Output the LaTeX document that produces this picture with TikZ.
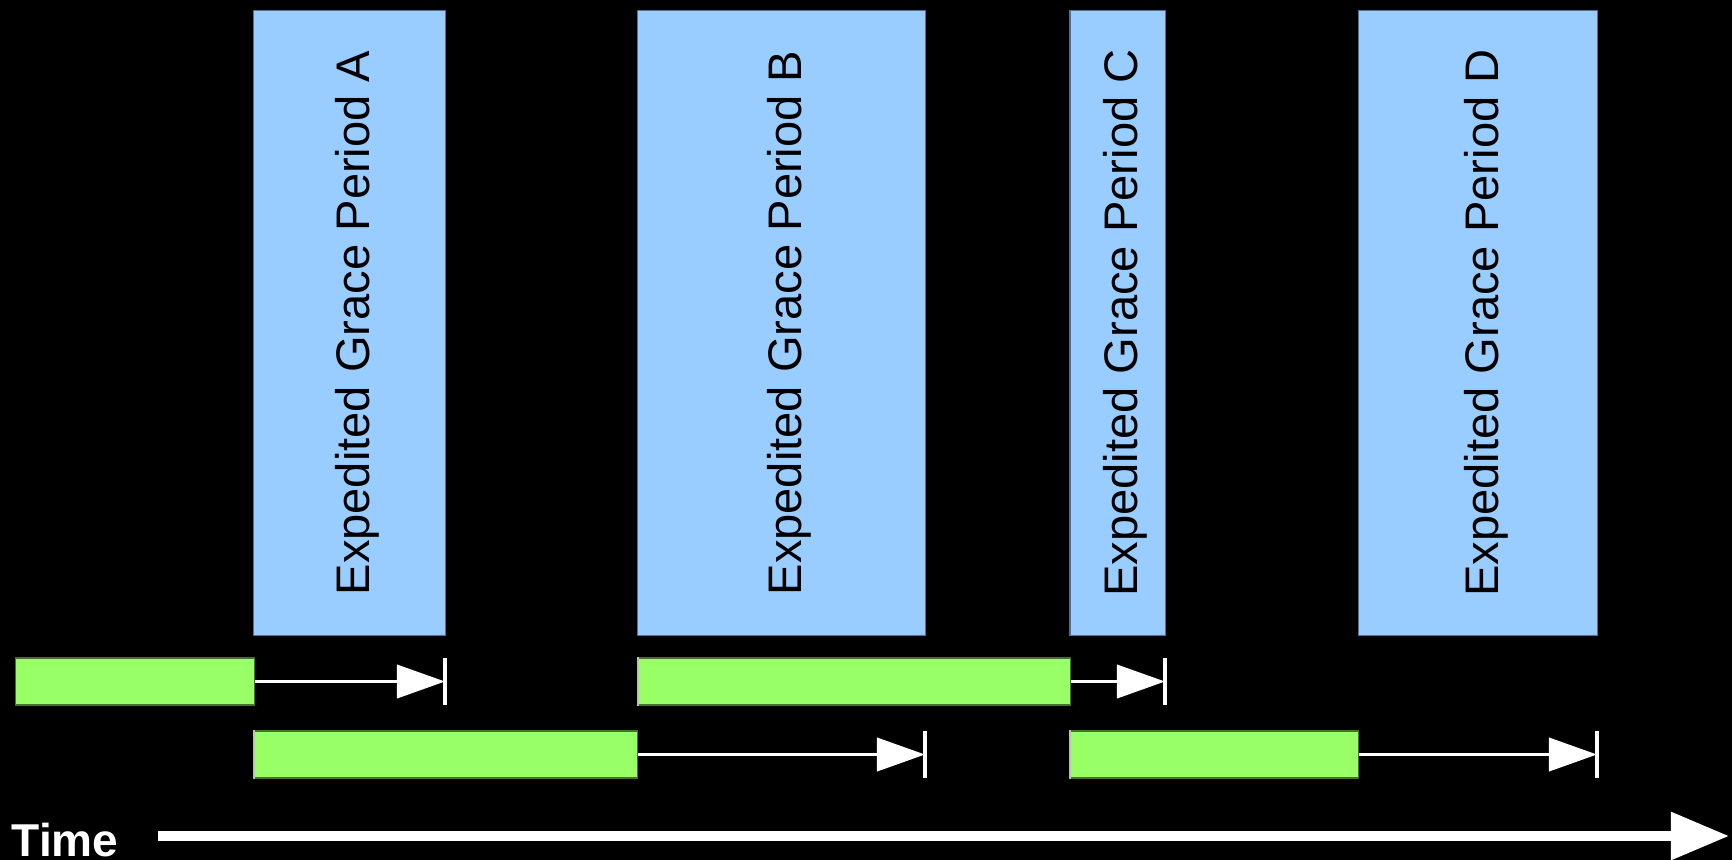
\documentclass[tikz,border=0pt]{standalone}
\usepackage{fontspec}
\setmainfont{Liberation Sans}
\usetikzlibrary{arrows.meta,positioning}
\definecolor{skyblue}{HTML}{99CCFF}
\definecolor{lime}{HTML}{99FF66}

\begin{document}
\begin{tikzpicture}[x=.01cm,y=-.01cm,
  gp/.style={rotate=90,fill=skyblue,draw=skyblue!55!black,line width=.3pt,minimum width=6.24cm,inner sep=0pt,text height=11.4pt,text depth=0pt,font=\fontsize{13.4}{16}\selectfont},
  wait/.style={fill=lime,draw=lime!45!black,line width=.3pt,minimum height=.47cm,inner sep=0pt,anchor=west},
  run/.style={white,line width=1.1pt,-{Triangle[length=.48cm,width=.33cm]}},
  tick/.style={white,line width=.9pt},
  start/.style={white!75!black,line width=.4pt}]
\fill[black] (0,0) rectangle (1732,860);\useasboundingbox (0,0) rectangle (1732,860);
% grace periods
\node[gp,minimum height=1.91cm] (gpA) at (349.5,323) {Expedited Grace Period A};
\node[gp,minimum height=2.87cm] (gpB) at (781.5,323) {Expedited Grace Period B};
\node[gp,minimum height=.95cm] (gpC) at (1117.5,323) {Expedited Grace Period C};
\node[gp,minimum height=2.38cm] (gpD) at (1478,323) {Expedited Grace Period D};
% first row of requests
\node[wait,minimum width=2.39cm] (a1) at (15,681.5) {};
\coordinate (ta1) at (445,681.5);\draw[run] (a1.east)--(ta1);\draw[tick] ([yshift=.235cm]ta1)--([yshift=-.235cm]ta1);
\node[wait,minimum width=4.32cm] (b1) at (638,681.5) {};\draw[start] (b1.north west)--(b1.south west);
\coordinate (tb1) at (1165,681.5);\draw[run] (b1.east)--(tb1);\draw[tick] ([yshift=.235cm]tb1)--([yshift=-.235cm]tb1);
% second row of requests
\node[wait,minimum width=3.83cm] (a2) at (254,754.5) {};\draw[start] (a2.north west)--(a2.south west);
\coordinate (ta2) at (925,754.5);\draw[run] (a2.east)--(ta2);\draw[tick] ([yshift=.235cm]ta2)--([yshift=-.235cm]ta2);
\node[wait,minimum width=2.88cm] (c2) at (1070,754.5) {};\draw[start] (c2.north west)--(c2.south west);
\coordinate (tc2) at (1597,754.5);\draw[run] (c2.east)--(tc2);\draw[tick] ([yshift=.235cm]tc2)--([yshift=-.235cm]tc2);
% time axis
\node[white,anchor=base west,inner sep=0pt,font=\bfseries\fontsize{13.1}{16}\selectfont] (time) at (11,856) {Time};
\coordinate (t0) at (158,836);\coordinate (t1) at (1729,836);
\draw[white,line width=2.6pt,-{Triangle[length=.58cm,width=.46cm]}] (t0)--(t1);
\end{tikzpicture}
\end{document}
